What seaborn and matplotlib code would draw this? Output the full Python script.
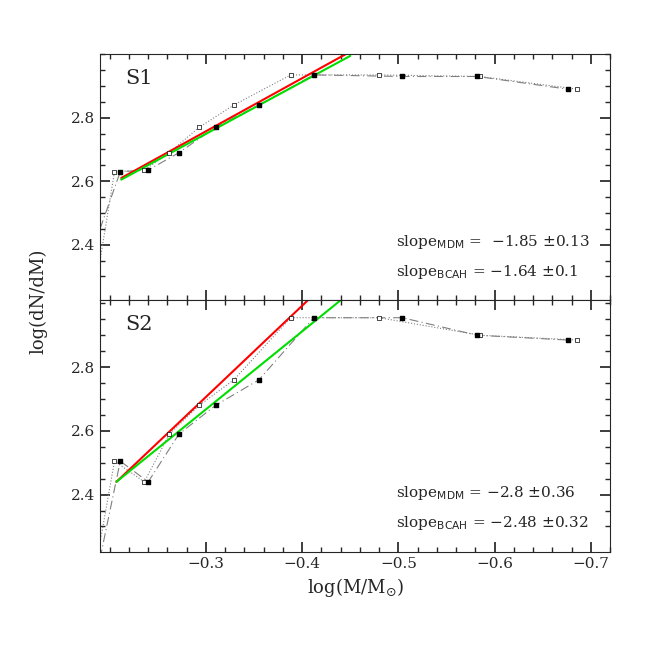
import matplotlib
matplotlib.use("Agg")
import matplotlib.pyplot as plt
import seaborn as sns

sns.set_theme(style="ticks")
plt.rcParams['font.family'] = ['DejaVu Serif']

x_open = [-0.19, -0.205, -0.236, -0.262, -0.293, -0.329, -0.388, -0.480, -0.585, -0.686]
x_fill = [-0.19, -0.211, -0.240, -0.272, -0.310, -0.355, -0.412, -0.504, -0.582, -0.676]
s1_open = [2.35, 2.63, 2.635, 2.69, 2.77, 2.84, 2.935, 2.935, 2.93, 2.89]
s1_fill = [2.45, 2.63, 2.635, 2.69, 2.77, 2.84, 2.935, 2.93, 2.93, 2.89]
s2_open = [2.25, 2.505, 2.44, 2.59, 2.68, 2.76, 2.955, 2.955, 2.90, 2.885]
s2_fill = [2.20, 2.505, 2.44, 2.59, 2.68, 2.76, 2.955, 2.955, 2.90, 2.885]
s1_red = ([-0.212, -0.445], [2.61, 3.00]); s1_green = ([-0.212, -0.45], [2.605, 2.995])
s2_red = ([-0.207, -0.406], [2.44, 3.01]); s2_green = ([-0.207, -0.44], [2.44, 3.01])
labels = ["S1", "S2"]
texts = [("slope$_{\\rm MDM}$ =  $-$1.85 $\\pm$0.13", "slope$_{\\rm BCAH}$ = $-$1.64 $\\pm$0.1"),
         ("slope$_{\\rm MDM}$ = $-$2.8 $\\pm$0.36", "slope$_{\\rm BCAH}$ = $-$2.48 $\\pm$0.32")]

fig = plt.figure(figsize=(6.54, 6.54), dpi=100)
ax1 = fig.add_axes([0.153, 0.541, 0.78, 0.376])
ax2 = fig.add_axes([0.153, 0.156, 0.78, 0.385], sharex=ax1)
panels = [(ax1, s1_open, s1_fill, s1_red, s1_green, (2.225, 2.99)),
          (ax2, s2_open, s2_fill, s2_red, s2_green, (2.22, 3.01))]
for i, (ax, yo, yf, r, g, yl) in enumerate(panels):
    sns.lineplot(x=x_open, y=yo, ax=ax, color="gray", lw=0.8, linestyle=":", sort=False)
    sns.lineplot(x=x_fill, y=yf, ax=ax, color="gray", lw=0.8, linestyle=(0, (8, 3, 1, 3)), sort=False)
    ax.scatter(x_open[1:], yo[1:], marker="s", s=9, facecolor="white", edgecolor="black", lw=0.5, zorder=3)
    ax.scatter(x_fill[1:], yf[1:], marker="s", s=9, color="black", zorder=3)
    sns.lineplot(x=r[0], y=r[1], ax=ax, color="red", lw=1.5)
    sns.lineplot(x=g[0], y=g[1], ax=ax, color="#00dd00", lw=1.5)
    ax.set_ylim(*yl)
    ax.set_xlim(-0.19, -0.715)
    ax.set_yticks([2.4, 2.6, 2.8])
    ax.set_yticks([2.3 + 0.05 * k for k in range(15)], minor=True)
    ax.set_xticks([-0.2 - 0.02 * k for k in range(27)], minor=True)
    ax.tick_params(which="both", direction="in", top=True, right=True)
    ax.tick_params(which="major", length=7)
    ax.tick_params(which="minor", length=3.5)
    ax.text(0.05, 0.88, labels[i], transform=ax.transAxes, fontsize=15)
    ax.text(0.58, 0.22, texts[i][0], transform=ax.transAxes, fontsize=11)
    ax.text(0.58, 0.1, texts[i][1], transform=ax.transAxes, fontsize=11)
    for sp in ax.spines.values():
        sp.set_linewidth(0.8)
plt.setp(ax1.get_xticklabels(), visible=False)
ax2.set_xticks([-0.3, -0.4, -0.5, -0.6, -0.7])
ax2.set_xticklabels(["\u22120.3", "\u22120.4", "\u22120.5", "\u22120.6", "\u22120.7"])
ax2.set_xlabel("log(M/M$_{\\odot}$)", fontsize=13)
fig.text(0.045, 0.54, "log(dN/dM)", rotation=90, fontsize=13, va="center")
fig.savefig("out.png", dpi=100)
